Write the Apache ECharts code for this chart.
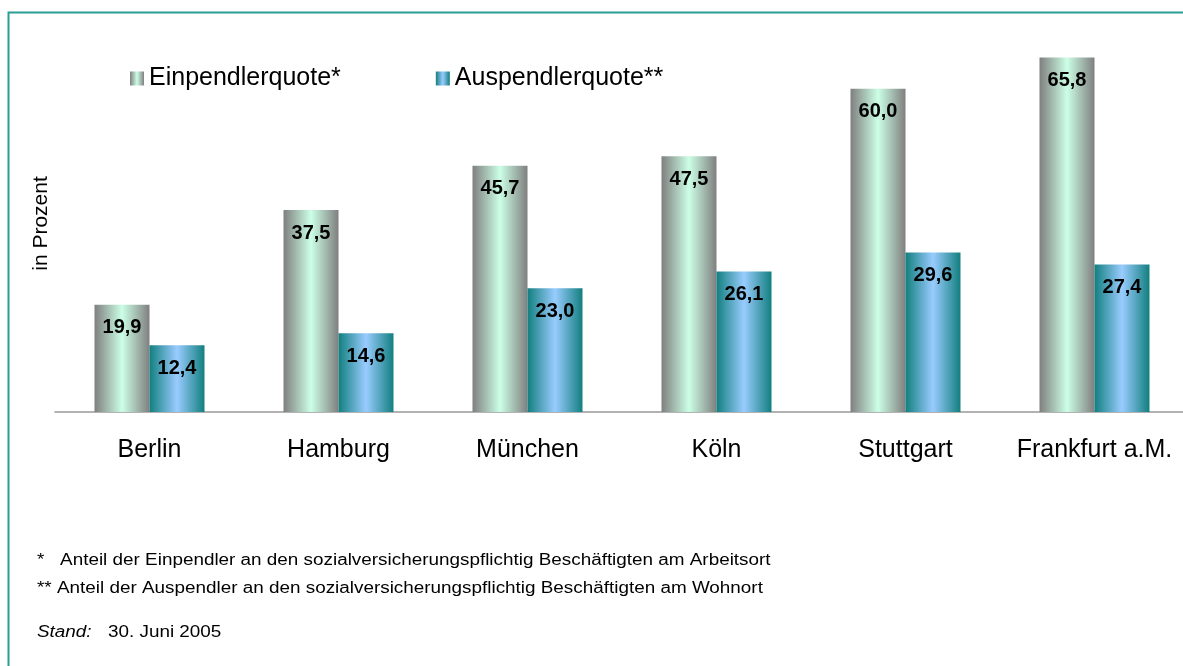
<!DOCTYPE html>
<html>
<head>
<meta charset="utf-8">
<script src="https://cdn.jsdelivr.net/npm/echarts@6/dist/echarts.min.js"></script>
<style>
html, body { margin: 0; padding: 0; overflow: hidden; background: #fff; }
#main { width: 1190px; height: 680px; }
</style>
</head>
<body>
<div id="main"></div>
<script>
var staedte = ['Berlin', 'Hamburg', 'München', 'Köln', 'Stuttgart', 'Frankfurt a.M.'];
var einpendler = [19.9, 37.5, 45.7, 47.5, 60.0, 65.8];
var auspendler = [12.4, 14.6, 23.0, 26.1, 29.6, 27.4];
var fussnoten = [
	'*   Anteil der Einpendler an den sozialversicherungspflichtig Beschäftigten am Arbeitsort',
	'** Anteil der Auspendler an den sozialversicherungspflichtig Beschäftigten am Wohnort'
];

var schrift = 'Liberation Sans, Arial, sans-serif';
var breit = 1.18; // Text im Original leicht gestreckt

// Verlauf links-rechts wie im Original (Zylinder-Optik)
function verlauf(rand, mitte) {
	return new echarts.graphic.LinearGradient(0, 0, 1, 0, [
		{ offset: 0, color: rand },
		{ offset: 0.5, color: mitte },
		{ offset: 1, color: rand }
	]);
}

function fussText(x, y, txt, kursiv) {
	return {
		type: 'text',
		x: x,
		y: y,
		scaleX: breit,
		silent: true,
		style: {
			text: txt,
			fontSize: 16,
			fontStyle: kursiv ? 'italic' : 'normal',
			fill: '#000',
			fontFamily: schrift,
			verticalAlign: 'top'
		}
	};
}

var labelOpt = {
	show: true,
	position: 'insideTop',
	distance: 13,
	color: '#000',
	fontSize: 20,
	fontWeight: 'bold',
	fontFamily: schrift,
	formatter: function (p) {
		return p.value.toFixed(1).replace('.', ',');
	}
};

var chart = echarts.init(document.getElementById('main'));
chart.setOption({
	animation: false,
	textStyle: { fontFamily: schrift },
	legend: {
		left: 125,
		top: 61,
		itemWidth: 14,
		itemHeight: 14,
		itemGap: 95,
		icon: 'rect',
		textStyle: { fontSize: 25, color: '#000', fontFamily: schrift },
		data: ['Einpendlerquote*', 'Auspendlerquote**']
	},
	grid: {
		left: 55,
		right: 1,
		top: 35,
		bottom: 680 - 412,
		containLabel: false
	},
	xAxis: {
		type: 'category',
		data: staedte,
		axisTick: { show: false },
		axisLine: { lineStyle: { color: '#999', width: 1.5 } },
		axisLabel: { interval: 0, fontSize: 25, color: '#000', margin: 26, fontFamily: schrift }
	},
	yAxis: {
		type: 'value',
		min: 0,
		max: 70,
		name: 'in Prozent',
		nameLocation: 'middle',
		nameGap: 3,
		nameTextStyle: { fontSize: 21, color: '#000', fontFamily: schrift },
		axisLine: { show: false },
		axisTick: { show: false },
		axisLabel: { show: false },
		splitLine: { show: false }
	},
	series: [
		{
			name: 'Einpendlerquote*',
			type: 'bar',
			data: einpendler,
			barWidth: 55,
			barGap: '0%',
			itemStyle: { color: verlauf('#7f7f7f', '#ccffe6') },
			label: labelOpt
		},
		{
			name: 'Auspendlerquote**',
			type: 'bar',
			data: auspendler,
			barWidth: 55,
			itemStyle: { color: verlauf('#127f7f', '#99ccff') },
			label: labelOpt
		}
	],
	graphic: [
		{
			type: 'rect',
			shape: { x: 8.5, y: 12.5, width: 1400, height: 900 },
			style: { fill: 'none', stroke: '#2a9d94', lineWidth: 2 },
			silent: true
		},
		fussText(37, 553, fussnoten[0], false),
		fussText(37, 581, fussnoten[1], false),
		fussText(37, 625, 'Stand:', true),
		fussText(108, 625, '30. Juni 2005', false)
	]
});
</script>
</body>
</html>
